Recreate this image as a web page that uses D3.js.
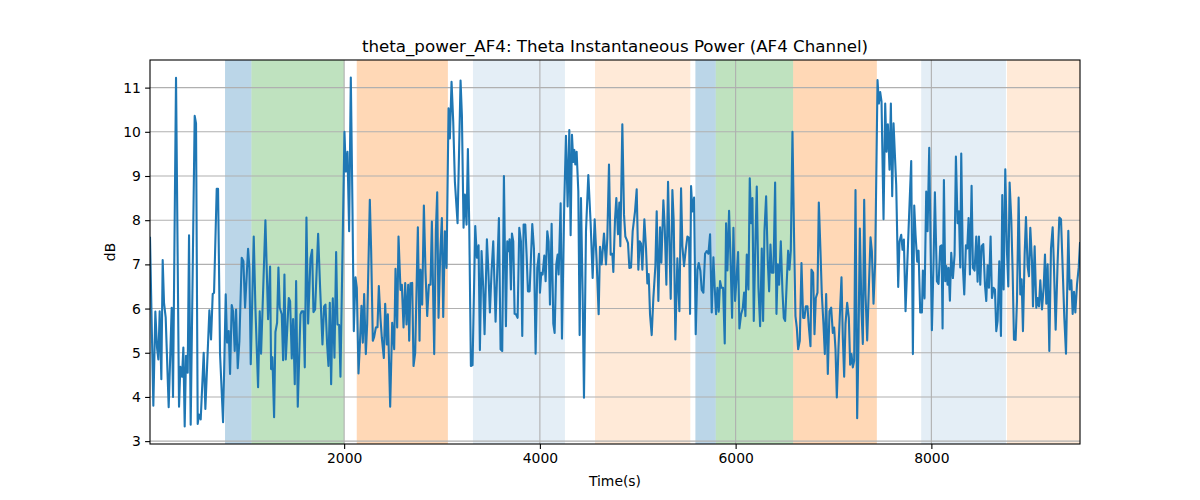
<!DOCTYPE html>
<html>
<head>
<meta charset="utf-8">
<script src="https://cdn.jsdelivr.net/npm/d3@7"></script>
<style>
  html, body { margin: 0; padding: 0; background: #ffffff; }
  svg { display: block; }
  text { font-family: "DejaVu Sans", sans-serif; fill: #000; }
</style>
</head>
<body>
<svg id="chart" width="1200" height="500"></svg>
<script>
// ---- data ----
const times = [
16.3,50.4,70.9,87.9,101.5,115.2,132.2,145.9,159.5,176.5,207.2,237.9,251.5,282.2,312.8,326.5,343.5,357.1,370.8,384.4,401.5,415.1,432.1,473.0,486.6,503.7,517.3,534.4,565.0,582.1,623.0,640.0,657.1,670.7,698.0,711.6,732.0,762.7,790.0,803.6,820.6,834.3,851.3,865.0,882.0,895.6,912.7,929.7,953.5,970.6,987.7,1018.3,1032.0,1045.6,1076.3,1093.3,1120.5,1137.6,1151.3,
1195.6,1222.9,1243.3,1253.6,1267.2,1284.2,1297.9,1314.9,1328.5,1342.2,1362.6,1376.3,1389.9,1403.5,1420.6,1434.2,1447.8,1464.9,1478.5,1495.5,1509.2,1526.2,1553.5,1567.1,1584.2,1597.8,1614.8,1631.9,1655.7,1672.8,1686.4,1703.4,1734.1,1754.5,1778.4,1795.4,1809.1,1826.1,1839.7,1853.4,1867.0,1884.0,1901.1,1918.1,1931.8,1948.8,1962.4,2003.3,2017.0,2034.0,2051.0,2068.1,2085.1,2098.8,2115.8,2129.4,2146.5,2160.1,2177.1,2190.8,2204.4,2221.5,2235.1,2262.4,2276.0,2293.0,2306.7,2323.7,2340.7,2354.4,2371.4,2385.0,
2405.6,2419.2,2436.3,2446.5,2470.3,2490.8,2511.2,2524.9,2541.9,2555.5,2576.0,2589.6,2606.7,2623.7,2637.3,2654.4,2664.6,2678.2,2695.3,2708.9,2725.9,2753.2,2770.3,2780.5,2797.5,2814.6,2831.6,2848.6,2865.7,2882.7,2896.3,2920.2,2937.2,2950.9,2964.5,2981.5,2998.6,3012.2,3029.3,3046.3,3066.7,3080.4,3097.4,3114.5,3131.5,3158.8,3189.4,3203.1,3220.1,3233.7,3250.8,3264.4,3278.1,3295.1,3312.1,3339.4,3356.4,3373.5,3387.1,3404.1,3421.2,3434.8,3458.7,3472.3,3489.3,3506.4,3523.4,3547.3,3564.3,3581.4,3598.4,3615.4,3632.5,
3653.0,3666.7,3680.3,3690.5,3704.2,3714.4,3728.0,3741.7,3755.3,3772.3,3789.4,3806.4,3820.0,3833.7,3850.7,3864.3,3878.0,3895.0,3922.3,3939.3,3956.4,3973.4,3990.4,4000.7,4014.3,4027.9,4045.0,4058.6,4075.6,4089.3,4102.9,4120.0,4137.0,4150.6,4167.7,4181.3,4191.5,4212.0,4225.6,4249.4,4266.5,4283.5,4300.6,4314.2,4327.8,4341.5,4351.7,4361.9,4375.5,4392.6,4406.2,4419.8,4436.9,4450.5,4471.0,4494.8,4518.7,4539.1,4559.6,4580.0,4600.5,4614.1,4631.1,4655.0,4675.4,4689.1,4706.1,4723.2,4740.2,4750.4,4767.5,4781.1,4798.1,4811.8,4822.0,4842.5,
4859.6,4873.2,4886.9,4900.5,4914.1,4931.2,4948.2,4972.1,4989.1,5006.1,5019.8,5033.4,5047.0,5067.5,5084.5,5098.2,5111.8,5125.4,5142.5,5159.5,5180.0,5193.6,5210.6,5227.7,5241.3,5261.7,5275.4,5292.4,5309.5,5323.1,5336.7,5353.8,5367.4,5384.4,5404.9,5425.3,5442.4,5456.0,5473.0,5490.1,5507.1,5524.2,5534.4,5544.6,5558.2,5575.3,5592.3,5609.4,5623.0,5640.0,5653.7,5670.7,5687.7,5704.8,5721.8,5738.9,5755.9,5772.9,5786.6,5800.2,5813.8,5827.5,5841.1,5854.7,5871.8,5888.8,5902.4,5916.1,5933.1,5946.7,5963.8,5977.4,5994.5,6011.5,6025.1,6038.8,6055.8,6072.8,
6086.6,6100.2,6113.9,6130.9,6144.5,6158.2,6171.8,6185.4,6202.5,6216.1,6233.1,6250.2,6267.2,6280.9,6294.5,6311.5,6328.6,6342.2,6355.8,6369.5,6386.5,6403.5,6417.2,6430.8,6444.4,6461.5,6478.5,6492.1,6505.8,6522.8,6536.5,6550.1,6563.7,6580.8,6597.8,6611.4,6625.1,6638.7,6655.7,6672.8,6689.8,6703.4,6717.1,6734.1,6747.7,6764.8,6775.0,6792.1,6805.7,6819.3,6836.4,6850.0,6867.0,6880.7,6897.7,6911.3,6925.0,6942.0,6959.0,6976.1,6993.1,7006.8,7020.4,7034.0,7051.1,7068.1,7081.7,7095.4,7109.0,7122.6,7139.7,7156.7,7170.3,7184.0,7197.6,7211.2,7224.9,7241.9,7255.5,7269.2,7286.2,7299.8,7313.5,
7327.2,7344.3,7361.3,7378.3,7392.0,7409.0,7426.1,7449.9,7463.5,7477.2,7490.8,7511.3,7528.3,7541.9,7555.6,7572.6,7586.2,7599.9,7613.5,7640.8,7661.2,7674.8,7691.9,7705.5,7719.1,7736.2,7766.9,7794.1,7811.2,7824.8,7838.4,7855.5,7869.1,7886.1,7903.2,7913.4,7930.4,7947.5,7961.1,7978.2,7991.8,8005.4,8022.5,8036.1,8056.5,8073.6,8090.6,8104.3,8114.5,8128.1,8141.7,8152.0,8165.6,8175.8,8189.5,8203.1,8220.1,8237.2,8250.8,8267.8,8281.5,8295.1,8305.3,8322.4,8336.0,8353.0,8366.7,8380.3,8393.9,8411.0,8424.6,8441.6,8458.7,8472.3,8486.0,8499.6,8513.3,8530.3,
8547.4,8561.0,8574.7,8588.3,8605.3,8619.0,8636.0,8649.7,8663.3,8676.9,8694.0,8711.0,8724.6,8738.3,8755.3,8772.3,8786.0,8799.6,8816.6,8830.3,8843.9,8860.9,8874.6,8891.6,8908.7,8922.3,8935.9,8953.0,8966.6,8983.6,8997.3,9010.9,9027.9,9038.2,9055.2,9072.2,9085.9,9099.5,9113.1,9130.2,9147.2,9160.9,9174.5,9188.1,9205.2,9222.2,9239.3,9252.9,9269.9,9290.4,9307.4,9324.5,9341.5,9358.5,9375.6,9399.4,9413.1,9430.1,9443.8,9457.4,9471.0,9488.1,9505.1,9518.7
];
const values = [
7.6,3.8,5.93,5.12,4.85,5.94,4.4,7.1,6.13,5.8,3.77,6.02,4.0,11.22,3.78,4.68,4.46,5.12,3.33,4.93,4.55,7.66,3.37,10.36,10.19,3.39,3.6,3.49,5.0,3.73,5.96,5.3,6.33,6.36,8.71,8.71,4.97,3.43,6.32,5.23,5.49,4.52,6.08,5.94,5.04,5.98,4.65,5.27,7.15,7.07,6.02,7.35,6.92,4.74,7.63,6.02,4.22,5.94,4.98,
8.0,5.76,6.95,4.63,4.9,3.54,5.47,5.68,6.93,6.02,5.87,4.83,6.77,4.85,5.63,6.24,6.17,4.87,5.76,4.29,6.62,3.78,5.87,5.94,5.94,4.67,8.06,5.66,7.13,7.33,5.92,5.98,7.69,6.47,5.19,6.05,6.09,5.19,4.7,6.13,4.29,6.23,4.89,7.28,5.64,5.63,4.46,10.0,9.1,9.55,7.75,11.23,8.27,5.49,6.71,6.47,4.53,5.15,6.06,5.23,6.33,4.97,5.64,8.46,7.3,5.27,5.36,5.57,5.58,6.51,5.77,5.34,
4.88,6.11,5.19,5.87,3.78,5.68,5.08,6.9,5.57,7.63,6.42,6.54,5.57,6.58,5.64,6.54,5.27,6.57,6.58,4.7,5.0,7.84,5.27,6.88,6.09,8.33,6.81,5.83,6.54,6.54,7.97,4.97,7.75,8.63,5.79,7.21,8.05,5.81,7.75,6.92,10.53,9.85,11.13,10.23,8.87,7.93,11.16,10.38,7.83,8.58,7.9,9.61,7.9,4.7,4.72,7.87,7.15,7.43,5.06,7.3,6.47,5.42,7.57,6.92,5.91,6.85,7.52,5.7,6.85,8.05,5.08,5.04,9.0,
5.6,7.52,7.3,7.57,6.43,7.7,7.52,5.88,5.87,5.79,7.83,7.52,5.38,7.9,7.9,7.21,6.39,6.39,7.91,7.36,4.98,6.92,7.24,6.36,6.81,6.77,7.2,6.62,7.75,7.52,6.09,7.92,5.66,5.45,7.0,7.22,6.77,8.38,5.32,8.42,9.91,8.31,10.04,7.66,9.93,9.32,9.59,9.26,9.55,8.65,5.4,8.5,6.32,3.98,7.75,9.02,7.93,6.69,8.02,7.07,5.87,7.4,7.0,7.7,7.0,7.6,9.26,7.22,7.24,6.83,8.01,8.5,7.68,8.4,7.41,10.17,
8.12,7.63,7.56,7.48,6.92,6.93,7.75,8.2,8.7,6.88,7.52,7.47,6.88,8.02,7.36,6.57,6.78,5.87,5.4,6.24,6.96,8.2,6.17,7.84,7.04,8.45,7.86,6.54,8.87,7.52,6.22,8.68,7.97,5.3,7.14,5.94,8.72,7.41,6.96,7.33,7.63,7.6,5.88,8.77,8.2,8.51,5.42,6.88,7.03,6.85,6.42,6.36,7.24,7.3,7.24,7.68,5.91,7.16,6.47,5.87,6.47,5.93,6.62,6.47,6.47,5.21,7.93,6.86,8.21,7.22,5.79,7.83,6.17,6.77,7.28,5.55,5.87,6.0,
6.36,5.83,7.22,6.43,8.95,7.93,8.5,5.72,7.52,8.76,6.47,5.6,7.36,5.72,7.75,8.54,7.07,6.39,7.45,6.81,6.81,8.85,5.88,7.0,6.54,7.52,6.39,5.79,5.72,6.62,7.31,6.88,7.31,10.0,7.52,5.83,5.57,5.08,5.27,7.03,5.79,5.79,6.05,6.05,5.6,5.15,6.88,6.81,5.42,6.24,6.36,8.4,7.3,6.32,5.64,4.97,6.33,4.52,5.94,6.02,5.45,5.57,5.08,3.99,5.12,6.02,6.71,5.34,4.46,5.66,6.13,5.79,4.73,4.97,4.67,4.82,8.68,3.52,5.27,7.81,5.95,5.2,8.46,
6.32,5.28,6.47,7.61,7.3,6.11,7.07,11.17,10.64,10.9,10.68,8.02,10.64,9.55,10.17,9.14,10.64,8.54,10.19,8.79,6.49,7.52,7.67,7.33,7.56,5.94,7.78,9.34,4.97,8.33,7.67,7.06,7.31,5.91,5.91,6.86,6.23,8.65,7.75,9.64,7.45,5.51,7.07,8.63,6.62,6.56,7.41,7.43,5.55,8.91,6.62,6.96,6.54,6.92,6.18,7.26,6.69,7.22,9.44,7.93,8.2,6.93,9.51,6.92,6.32,7.43,7.36,8.05,6.77,8.78,6.92,6.86,7.63,6.61,7.63,6.54,7.41,7.46,
6.54,6.17,6.98,6.47,7.63,6.24,6.47,6.43,5.49,5.72,7.07,5.38,8.57,6.43,9.15,7.3,6.5,8.85,8.01,6.85,5.3,5.29,6.17,8.51,6.32,6.66,5.49,7.22,8.07,6.96,6.73,7.83,7.07,6.05,7.41,6.02,6.24,6.05,6.64,5.98,6.47,7.22,6.11,7.0,5.04,7.36,7.84,6.92,5.52,7.07,8.06,8.02,6.92,5.79,4.98,7.76,6.43,6.64,5.88,6.38,5.91,6.54,6.92,7.48
];

// shaded intervals
const spanStarts = [783, 1053, 2129, 3316, 4563, 5589, 5797, 6588, 7896, 8773];
const spanEnds   = [1053, 2000, 3060, 4256, 5537, 5797, 6588, 7443, 8762, 9600];
const spanKinds  = ["blue", "green", "orange", "lightblue", "lightorange", "blue", "green", "orange", "lightblue", "lightorange"];

const xTickValues = [2000, 4000, 6000, 8000];
const yTickValues = [3, 4, 5, 6, 7, 8, 9, 10, 11];

const titleText = "theta_power_AF4: Theta Instantaneous Power (AF4 Channel)";
const xLabelText = "Time(s)";
const yLabelText = "dB";

// ---- styles ----
const spanStyle = {
  blue:        { fill: "#1f77b4", opacity: 0.3 },
  green:       { fill: "#2ca02c", opacity: 0.3 },
  orange:      { fill: "#ff7f0e", opacity: 0.3 },
  lightblue:   { fill: "#1f77b4", opacity: 0.12 },
  lightorange: { fill: "#ff7f0e", opacity: 0.16 }
};

const svg = d3.select("#chart");
const margin = { left: 150, top: 60, right: 120, bottom: 56 };
const W = 1200, H = 500;
const iw = W - margin.left - margin.right;   // 930
const ih = H - margin.top - margin.bottom;   // 384

const x = d3.scaleLinear().domain(d3.extent(times)).range([0, iw]);
const vmin = d3.min(values), vmax = d3.max(values), pad = (vmax - vmin) * 0.05;
const y = d3.scaleLinear().domain([vmin - pad, vmax + pad]).range([ih, 0]);

const g = svg.append("g").attr("transform", `translate(${margin.left},${margin.top})`);

g.append("clipPath").attr("id", "clip").append("rect").attr("width", iw).attr("height", ih);

// spans
const spans = spanStarts.map((s, i) => ({ s, e: spanEnds[i], k: spanKinds[i] }));
g.append("g").attr("clip-path", "url(#clip)")
  .selectAll("rect").data(spans).enter().append("rect")
  .attr("x", d => x(d.s))
  .attr("width", d => Math.max(0, x(d.e) - x(d.s)))
  .attr("y", 0).attr("height", ih)
  .attr("fill", d => spanStyle[d.k].fill)
  .attr("fill-opacity", d => spanStyle[d.k].opacity);

// grid
const grid = g.append("g");
grid.selectAll("line.gy").data(yTickValues).enter().append("line")
  .attr("x1", 0).attr("x2", iw)
  .attr("y1", d => y(d)).attr("y2", d => y(d))
  .attr("stroke", "#b0b0b0").attr("stroke-width", 1.1);
grid.selectAll("line.gx").data(xTickValues).enter().append("line")
  .attr("y1", 0).attr("y2", ih)
  .attr("x1", d => x(d)).attr("x2", d => x(d))
  .attr("stroke", "#b0b0b0").attr("stroke-width", 1.1);

// line
const pts = times.map((t, i) => [t, values[i]]);
g.append("path").datum(pts)
  .attr("clip-path", "url(#clip)")
  .attr("fill", "none")
  .attr("stroke", "#1f77b4")
  .attr("stroke-width", 2.1)
  .attr("stroke-linejoin", "round")
  .attr("stroke-linecap", "square")
  .attr("d", d3.line().x(d => x(d[0])).y(d => y(d[1])));

// axes
const xAxis = d3.axisBottom(x).tickValues(xTickValues).tickFormat(d3.format("d")).tickSize(4.9).tickPadding(4.2);
const yAxis = d3.axisLeft(y).tickValues(yTickValues).tickFormat(d3.format("d")).tickSize(4.9).tickPadding(4.2);

const gx = g.append("g").attr("transform", `translate(0,${ih})`).call(xAxis);
const gy = g.append("g").call(yAxis);
[gx, gy].forEach(a => {
  a.select(".domain").remove();
  a.selectAll(".tick line").attr("stroke", "#000").attr("stroke-width", 1.1);
  a.selectAll(".tick text").attr("font-size", "13.9px").attr("font-family", "DejaVu Sans, sans-serif").attr("fill", "#000");
});

// frame
g.append("rect").attr("x", 0).attr("y", 0).attr("width", iw).attr("height", ih)
  .attr("fill", "none").attr("stroke", "#000").attr("stroke-width", 1.1);

// labels
svg.append("text").attr("x", margin.left + iw / 2).attr("y", 52)
  .attr("text-anchor", "middle").attr("font-size", "16.7px").text(titleText);
svg.append("text").attr("x", margin.left + iw / 2).attr("y", 486)
  .attr("text-anchor", "middle").attr("font-size", "13.9px").text(xLabelText);
svg.append("text").attr("transform", `translate(115,${margin.top + ih / 2}) rotate(-90)`)
  .attr("text-anchor", "middle").attr("font-size", "13.9px").text(yLabelText);
</script>
</body>
</html>
